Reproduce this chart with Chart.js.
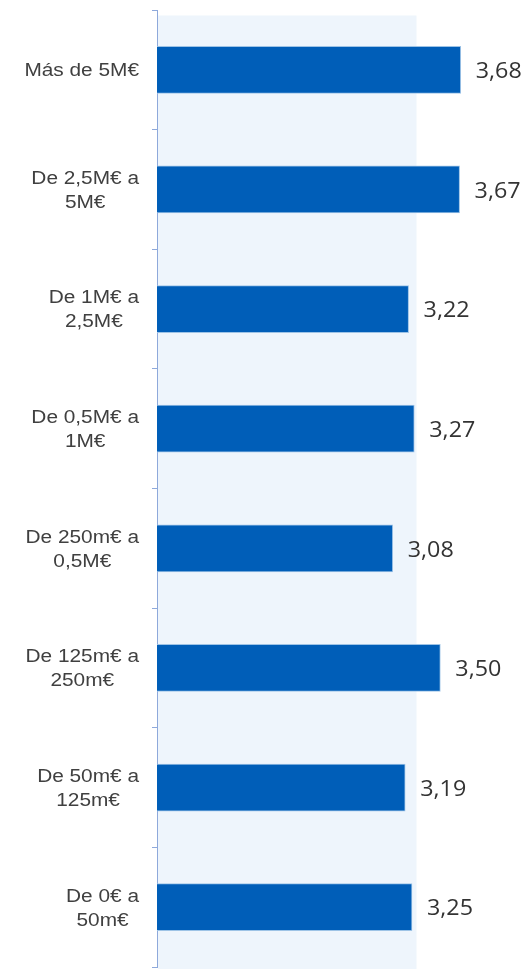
<!DOCTYPE html>
<html>
<head>
<meta charset="utf-8">
<script src="https://cdn.jsdelivr.net/npm/chart.js@4.4.1/dist/chart.umd.min.js"></script>
<style>
  html, body { margin: 0; padding: 0; background: #fff; }
  #wrap { width: 527px; height: 969px; }
</style>
</head>
<body>
<div id="wrap"><canvas id="rangeChart"></canvas></div>
<script>
// categories (top to bottom) and values
const categories = [
  ['Más de 5M€'],
  ['De 2,5M€ a', '5M€'],
  ['De 1M€ a', '2,5M€'],
  ['De 0,5M€ a', '1M€'],
  ['De 250m€ a', '0,5M€'],
  ['De 125m€ a', '250m€'],
  ['De 50m€ a', '125m€'],
  ['De 0€ a', '50m€'],
];
const values = [3.68, 3.67, 3.22, 3.27, 3.08, 3.50, 3.19, 3.25];
const axisMin = 1;
const axisMax = 4;
const bandEnd = 3.29;

const barColor = '#005EB8';
const axisColor = '#8EA9DB';

function stretchText(ctx, text, x, y, sx) {
  ctx.save();
  ctx.translate(x, y);
  ctx.scale(sx, 1);
  ctx.fillText(text, 0, 0);
  ctx.restore();
}

// light band behind the bars + custom labels
const decorPlugin = {
  id: 'decor',
  beforeDatasetsDraw(chart) {
    const { ctx, chartArea, scales } = chart;
    const right = scales.x.getPixelForValue(bandEnd);
    ctx.save();
    ctx.fillStyle = '#EEF5FC';
    ctx.fillRect(chartArea.left + 1, chartArea.top + 5.5, right - chartArea.left - 1, chartArea.bottom - chartArea.top);
    ctx.restore();
  },
  afterDraw(chart) {
    const { ctx, chartArea, scales } = chart;
    const y = scales.y;
    ctx.save();
    ctx.fillStyle = '#404040';
    ctx.textBaseline = 'middle';
    ctx.textAlign = 'center';
    ctx.font = '17.5px "Liberation Sans", Arial, sans-serif';
    const sx = 1.19;
    const lineH = 24;
    const rightEdge = chartArea.left - 18;
    categories.forEach((lines, i) => {
      const cy = y.getPixelForTick(i) + 1.5;
      const maxW = Math.max(...lines.map(l => ctx.measureText(l).width)) * sx;
      const cx = rightEdge - maxW / 2;
      const y0 = cy - (lines.length - 1) * lineH / 2;
      lines.forEach((l, k) => stretchText(ctx, l, cx, y0 + k * lineH, sx));
    });

    // value labels
    ctx.fillStyle = '#333333';
    ctx.textAlign = 'left';
    ctx.font = '22px "Open Sans", sans-serif';
    const meta = chart.getDatasetMeta(0);
    meta.data.forEach((bar, i) => {
      const txt = values[i].toFixed(2).replace('.', ',');
      stretchText(ctx, txt, bar.x + 15, bar.y + 2, 1.06);
    });
    ctx.restore();
  }
};

const rangeChart = new Chart(document.getElementById('rangeChart').getContext('2d'), {
  type: 'bar',
  data: {
    labels: categories,
    datasets: [{
      data: values,
      backgroundColor: barColor,
      borderColor: '#9DC3E6',
      borderWidth: 1,
      barThickness: 47,
    }],
  },
  options: {
    indexAxis: 'y',
    responsive: true,
    maintainAspectRatio: false,
    animation: false,
    layout: { padding: { top: 10, bottom: 2, left: 0, right: 30 } },
    plugins: {
      legend: { display: false },
      tooltip: { enabled: false },
    },
    scales: {
      x: {
        display: false,
        min: axisMin,
        max: axisMax,
      },
      y: {
        afterFit(scale) { scale.width = 157; },
        ticks: { display: false },
        grid: {
          offset: true,
          drawOnChartArea: false,
          drawTicks: true,
          tickLength: 5,
          color: axisColor,
        },
        border: { display: true, color: axisColor, width: 1 },
      },
    },
  },
  plugins: [decorPlugin],
});
</script>
</body>
</html>
